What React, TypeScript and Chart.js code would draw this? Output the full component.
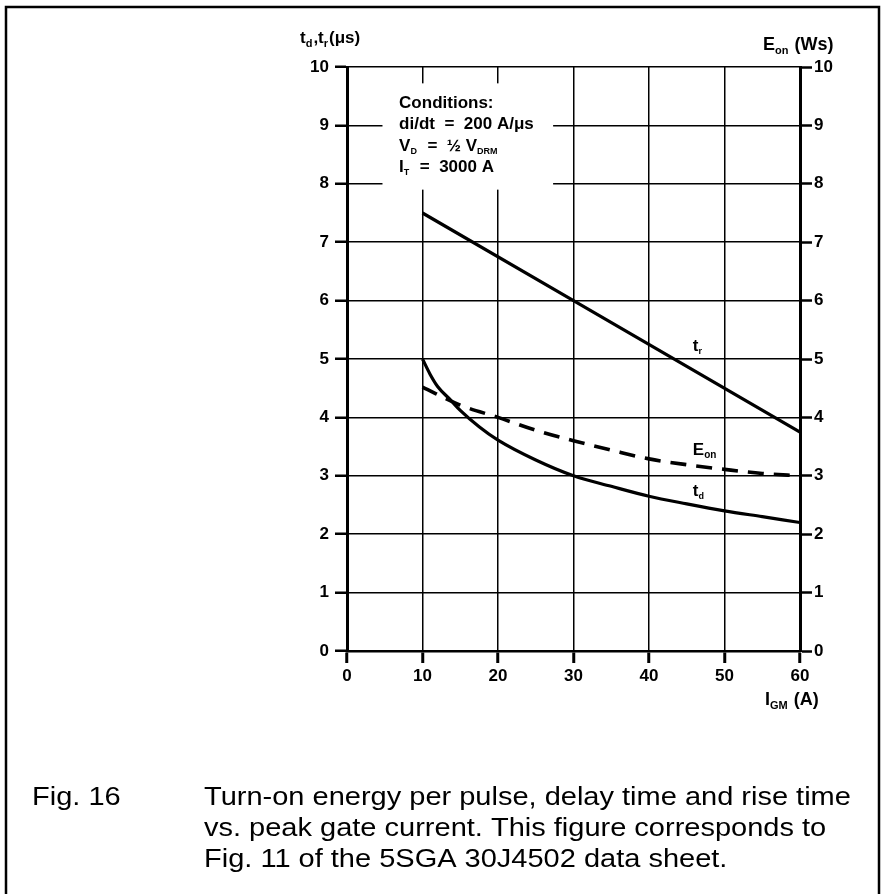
import React, { useEffect, useRef } from "react";
import { Chart, registerables } from "chart.js";

Chart.register(...registerables);

// ---- data ----
const xTickValues = [0, 10, 20, 30, 40, 50, 60];
const yTickValues = [0, 1, 2, 3, 4, 5, 6, 7, 8, 9, 10];

const trCurrent = [10, 30, 60];
const trValues = [7.5, 6.0, 3.75];

const tdCurrent = [10, 11, 12, 13.7, 15, 17.5, 20, 25, 30, 35, 40, 45, 50, 55, 60];
const tdValues = [5.0, 4.74, 4.53, 4.3, 4.12, 3.84, 3.61, 3.27, 3.0, 2.82, 2.65, 2.52, 2.4, 2.3, 2.2];

const eonCurrent = [10, 15, 20, 25, 30, 35, 40, 45, 50, 55, 60];
const eonValues = [4.52, 4.21, 4.0, 3.78, 3.6, 3.44, 3.29, 3.19, 3.11, 3.04, 3.0];

const captionFig = "Fig. 16";
const captionLines = [
  "Turn-on energy per pulse, delay time and rise time",
  "vs. peak gate current. This figure corresponds to",
  "Fig. 11 of the 5SGA 30J4502 data sheet.",
];

type Seg = { t: string; sub?: boolean };

const leftTitle: Seg[] = [
  { t: "t" }, { t: "d", sub: true }, { t: ",t" }, { t: "r", sub: true }, { t: "(μs)" },
];
const rightTitle: Seg[] = [{ t: "E" }, { t: "on", sub: true }, { t: " (Ws)" }];
const xTitle: Seg[] = [{ t: "I" }, { t: "GM", sub: true }, { t: " (A)" }];
const trLabel: Seg[] = [{ t: "t" }, { t: "r", sub: true }];
const eonLabel: Seg[] = [{ t: "E" }, { t: "on", sub: true }];
const tdLabel: Seg[] = [{ t: "t" }, { t: "d", sub: true }];

const conditionLines: Seg[][] = [
  [{ t: "Conditions:" }],
  [{ t: "di/dt  =  200 A/μs" }],
  [{ t: "V" }, { t: "D", sub: true }, { t: "  =  ½ V" }, { t: "DRM", sub: true }],
  [{ t: "I" }, { t: "T", sub: true }, { t: "  =  3000 A" }],
];

const FONT = "'Liberation Sans', Arial, Helvetica, sans-serif";

function drawRich(
  ctx: CanvasRenderingContext2D,
  segs: Seg[],
  x: number,
  y: number,
  size: number,
  subSize: number,
  subDrop: number
) {
  let cx = x;
  ctx.textAlign = "left";
  ctx.textBaseline = "alphabetic";
  for (const s of segs) {
    ctx.font = `bold ${s.sub ? subSize : size}px ${FONT}`;
    ctx.fillText(s.t, cx, s.sub ? y + subDrop : y);
    cx += ctx.measureText(s.t).width + (s.sub ? 1 : 0);
  }
}

const decorPlugin = {
  id: "decor",
  beforeDraw(chart: any) {
    const ctx = chart.ctx as CanvasRenderingContext2D;
    ctx.save();
    ctx.fillStyle = "#fff";
    ctx.fillRect(0, 0, chart.width, chart.height);
    ctx.strokeStyle = "#000";
    ctx.lineWidth = 2.5;
    ctx.strokeRect(6, 7, 873, 900);
    ctx.restore();
  },
  beforeDatasetsDraw(chart: any) {
    const ctx = chart.ctx as CanvasRenderingContext2D;
    const xs = chart.scales.x;
    const ys = chart.scales.y;
    const x0 = xs.getPixelForValue(4.7);
    const x1 = xs.getPixelForValue(27.3);
    const y0 = ys.getPixelForValue(9.72);
    const y1 = ys.getPixelForValue(7.9);
    ctx.save();
    ctx.fillStyle = "#fff";
    ctx.fillRect(x0, y0, x1 - x0, y1 - y0);
    ctx.fillStyle = "#000";
    const tx = xs.getPixelForValue(6.9);
    const baseY = ys.getPixelForValue(9.73) + 25;
    conditionLines.forEach((line, i) => {
      drawRich(ctx, line, tx, baseY + i * 21.5, 17, 9, 3);
    });
    ctx.restore();
  },
  afterDraw(chart: any) {
    const ctx = chart.ctx as CanvasRenderingContext2D;
    const xs = chart.scales.x;
    const ys = chart.scales.y;
    const area = chart.chartArea;
    ctx.save();
    ctx.fillStyle = "#000";
    // axis titles
    drawRich(ctx, leftTitle, area.left - 47, area.top - 24, 17, 11, 4);
    drawRich(ctx, rightTitle, area.right - 37, area.top - 17, 18, 11, 4);
    drawRich(ctx, xTitle, area.right - 35, area.bottom + 54, 18, 11, 4);
    // curve labels
    const lx = xs.getPixelForValue(45.8);
    drawRich(ctx, trLabel, lx, ys.getPixelForValue(5.14), 17, 9, 3);
    drawRich(ctx, eonLabel, lx, ys.getPixelForValue(3.36), 17, 10, 3);
    drawRich(ctx, tdLabel, lx, ys.getPixelForValue(2.65), 17, 9, 3);
    // caption
    ctx.font = `25px ${FONT}`;
    ctx.textBaseline = "alphabetic";
    ctx.textAlign = "left";
    const sx = 1.16;
    ctx.save();
    ctx.scale(sx, 1);
    ctx.fillText(captionFig, 32 / sx, 805);
    captionLines.forEach((l, i) => ctx.fillText(l, 204 / sx, 805 + i * 31));
    ctx.restore();
    ctx.restore();
  },
};

export default function App() {
  const ref = useRef<HTMLCanvasElement | null>(null);

  useEffect(() => {
    if (!ref.current) return;
    const tickFont = { family: FONT, size: 17, weight: "bold" as const };
    const chart = new Chart(ref.current, {
      type: "line",
      data: {
        datasets: [
          {
            label: "tr",
            data: trCurrent.map((x, i) => ({ x, y: trValues[i] })),
            borderColor: "#000",
            borderWidth: 3.2,
            pointRadius: 0,
            yAxisID: "y",
          },
          {
            label: "td",
            data: tdCurrent.map((x, i) => ({ x, y: tdValues[i] })),
            borderColor: "#000",
            borderWidth: 3.2,
            pointRadius: 0,
            cubicInterpolationMode: "monotone",
            yAxisID: "y",
          },
          {
            label: "Eon",
            data: eonCurrent.map((x, i) => ({ x, y: eonValues[i] })),
            borderColor: "#000",
            borderWidth: 3.6,
            borderDash: [16, 10],
            pointRadius: 0,
            cubicInterpolationMode: "monotone",
            yAxisID: "y2",
          },
        ],
      },
      options: {
        responsive: false,
        animation: false,
        layout: { padding: { top: 67, left: 0, right: 0, bottom: 0 } },
        plugins: { legend: { display: false }, tooltip: { enabled: false } },
        scales: {
          x: {
            type: "linear",
            min: 0,
            max: 60,
            afterBuildTicks: (s: any) => {
              s.ticks = xTickValues.map((v) => ({ value: v }));
            },
            afterFit: (s: any) => {
              s.height = 243;
            },
            ticks: { font: tickFont, color: "#000", padding: 3, maxRotation: 0 },
            grid: { color: "#000", lineWidth: 1.5, tickLength: 12, tickWidth: 3, tickColor: "#000" },
            border: { display: true, color: "#000", width: 2.5 },
          },
          y: {
            type: "linear",
            position: "left",
            min: 0,
            max: 10,
            afterBuildTicks: (s: any) => {
              s.ticks = yTickValues.map((v) => ({ value: v }));
            },
            afterFit: (s: any) => {
              s.width = 347;
            },
            ticks: { font: tickFont, color: "#000", padding: 6 },
            grid: { color: "#000", lineWidth: 1.5, tickLength: 12, tickWidth: 2.5, tickColor: "#000" },
            border: { display: true, color: "#000", width: 3 },
          },
          y2: {
            type: "linear",
            position: "right",
            min: 0,
            max: 10,
            afterBuildTicks: (s: any) => {
              s.ticks = yTickValues.map((v) => ({ value: v }));
            },
            afterFit: (s: any) => {
              s.width = 82;
            },
            ticks: { font: tickFont, color: "#000", padding: 2 },
            grid: {
              drawOnChartArea: false,
              color: "#000",
              tickLength: 12,
              tickWidth: 2.5,
              tickColor: "#000",
            },
            border: { display: true, color: "#000", width: 3 },
          },
        },
      },
      plugins: [decorPlugin],
    } as any);
    return () => chart.destroy();
  }, []);

  return (
    <div style={{ position: "absolute", left: 0, top: 0, width: 882, height: 894 }}>
      <canvas ref={ref} width={882} height={894} style={{ display: "block" }} />
    </div>
  );
}
